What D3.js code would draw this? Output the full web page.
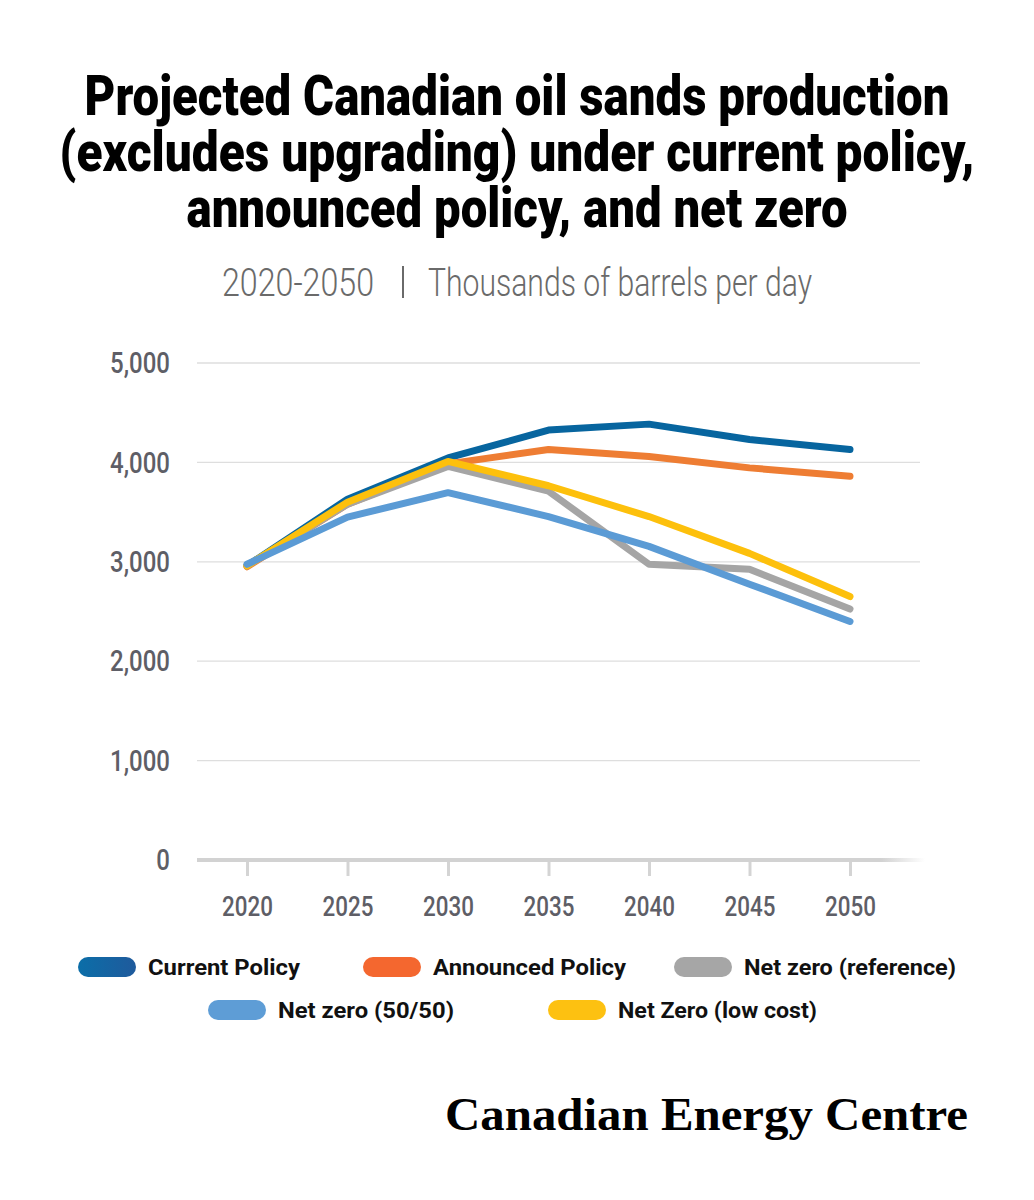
<!DOCTYPE html>
<html>
<head>
<meta charset="utf-8">
<title>Projected Canadian oil sands production</title>
<script src="https://cdn.jsdelivr.net/npm/d3@7"></script>
<style>
  body { margin: 0; background: #fff; }
  svg { display: block; }
</style>
</head>
<body>
<div id="chart"></div>
<script>
// Data (thousands of barrels per day)
const years = [2020, 2025, 2030, 2035, 2040, 2045, 2050];
const currentPolicy   = [2960, 3630, 4045, 4325, 4385, 4230, 4130];
const announcedPolicy = [2950, 3580, 3985, 4130, 4060, 3945, 3860];
const netZeroRef      = [2960, 3580, 3960, 3710, 2975, 2925, 2525];
const netZeroLowCost  = [2960, 3600, 4010, 3765, 3455, 3085, 2650];
const netZero5050     = [2975, 3450, 3695, 3455, 3155, 2775, 2400];
const yTicks = [0, 1000, 2000, 3000, 4000, 5000];

const series = [
  { name: "Current Policy",      values: currentPolicy,   color: "#07659f", sw: ["#0b6ea8", "#1f5a9c"] },
  { name: "Announced Policy",    values: announcedPolicy, color: "#ee7d33", sw: ["#f4672f", "#f4672f"] },
  { name: "Net zero (reference)",values: netZeroRef,      color: "#a5a5a5", sw: ["#a6a6a6", "#a6a6a6"] },
  { name: "Net Zero (low cost)", values: netZeroLowCost,  color: "#fdc00c", sw: ["#fdc111", "#fdc111"] },
  { name: "Net zero (50/50)",    values: netZero5050,     color: "#5b9bd5", sw: ["#5e9dd6", "#5e9dd6"] }
];

const W = 1034, H = 1200;
const svg = d3.select("#chart").append("svg")
  .attr("width", W).attr("height", H);

const defs = svg.append("defs");
series.forEach((s, i) => {
  const g = defs.append("linearGradient").attr("id", "sw" + i);
  g.append("stop").attr("offset", "0%").attr("stop-color", s.sw[0]);
  g.append("stop").attr("offset", "100%").attr("stop-color", s.sw[1]);
});
const fade = defs.append("linearGradient").attr("id", "axisFade")
  .attr("gradientUnits", "userSpaceOnUse").attr("x1", 197).attr("x2", 925);
fade.append("stop").attr("offset", "0%").attr("stop-color", "#d2d2d2");
fade.append("stop").attr("offset", "94%").attr("stop-color", "#d2d2d2");
fade.append("stop").attr("offset", "100%").attr("stop-color", "#d2d2d2").attr("stop-opacity", 0);

// Title (condensed look: squeezed with textLength, stretched vertically)
const titleLines = [
  { t: "Projected Canadian oil sands production", y: 115, len: 865 },
  { t: "(excludes upgrading) under current policy,", y: 171, len: 915 },
  { t: "announced policy, and net zero", y: 227, len: 661 }
];
svg.selectAll("text.title").data(titleLines).join("text")
  .attr("class", "title")
  .attr("transform", d => `translate(${W / 2},${d.y}) scale(1,1.33)`)
  .attr("text-anchor", "middle")
  .attr("textLength", d => d.len)
  .attr("lengthAdjust", "spacingAndGlyphs")
  .style("font-family", "Roboto, sans-serif")
  .style("font-weight", 900)
  .style("font-size", "42px")
  .attr("fill", "#000")
  .text(d => d.t);

// Subtitle
const sub = svg.append("g").style("font-family", "Roboto, sans-serif")
  .style("font-weight", 300).style("font-size", "38px").attr("fill", "#6a6a6a");
sub.append("text").attr("x", 222).attr("y", 296)
  .attr("textLength", 152).attr("lengthAdjust", "spacingAndGlyphs").text("2020-2050");
sub.append("rect").attr("x", 402).attr("y", 266).attr("width", 2).attr("height", 32).attr("fill", "#6a6a6a");
sub.append("text").attr("x", 428).attr("y", 296)
  .attr("textLength", 384).attr("lengthAdjust", "spacingAndGlyphs").text("Thousands of barrels per day");

// Scales
const x = d3.scaleLinear().domain([2020, 2050]).range([247, 850]);
const y = d3.scaleLinear().domain([0, 5000]).range([860, 363]);

// Gridlines
svg.append("g").selectAll("line").data(yTicks.filter(d => d > 0)).join("line")
  .attr("x1", 197).attr("x2", 920)
  .attr("y1", d => y(d)).attr("y2", d => y(d))
  .attr("stroke", "#dedede").attr("stroke-width", 1.3);

// Y axis labels
const yAxis = svg.append("g").attr("transform", "translate(170,0)")
  .call(d3.axisLeft(y).tickValues(yTicks).tickFormat(d3.format(",")).tickSize(0).tickPadding(0));
yAxis.select(".domain").remove();
yAxis.selectAll("text")
  .attr("transform", "scale(0.8,1)")
  .style("font-family", "Roboto, sans-serif").style("font-weight", 500)
  .style("font-size", "30px").attr("fill", "#5e5e66");

// X axis
svg.append("line").attr("x1", 197).attr("x2", 925).attr("y1", 860).attr("y2", 860)
  .attr("stroke", "url(#axisFade)").attr("stroke-width", 4);
const xAxis = svg.append("g").attr("transform", "translate(0,862)")
  .call(d3.axisBottom(x).tickValues(years).tickFormat(d3.format("d")).tickSize(14).tickPadding(20));
xAxis.select(".domain").remove();
xAxis.selectAll(".tick line").attr("stroke", "#d4d4d4").attr("stroke-width", 3);
xAxis.selectAll("text")
  .attr("transform", "scale(0.8,1)")
  .style("font-family", "Roboto, sans-serif").style("font-weight", 500)
  .style("font-size", "28px").attr("fill", "#5e5e66");

// Lines
const line = d3.line().x((d, i) => x(years[i])).y(d => y(d));
svg.append("g").selectAll("path").data(series).join("path")
  .attr("d", d => line(d.values))
  .attr("fill", "none")
  .attr("stroke", d => d.color)
  .attr("stroke-width", 7)
  .attr("stroke-linecap", "round")
  .attr("stroke-linejoin", "round");

// Legend
const legendPos = [
  { i: 0, x: 78,  y: 967,  w: 152 },
  { i: 1, x: 363, y: 967,  w: 193 },
  { i: 2, x: 674, y: 967,  w: 212 },
  { i: 4, x: 208, y: 1010, w: 176 },
  { i: 3, x: 548, y: 1010, w: 199 }
];
const lg = svg.append("g").selectAll("g").data(legendPos).join("g")
  .attr("transform", d => `translate(${d.x},${d.y})`);
lg.append("rect").attr("x", 0).attr("y", -10).attr("width", 58).attr("height", 20).attr("rx", 10)
  .attr("fill", d => `url(#sw${d.i})`);
lg.append("text").attr("x", 70).attr("y", 8)
  .attr("textLength", d => d.w).attr("lengthAdjust", "spacingAndGlyphs")
  .style("font-family", "Roboto, sans-serif").style("font-weight", 700)
  .style("font-size", "22px").attr("fill", "#111")
  .text(d => series[d.i].name);

// Footer
svg.append("text").attr("x", 445).attr("y", 1130)
  .attr("textLength", 523).attr("lengthAdjust", "spacingAndGlyphs")
  .style("font-family", "'Liberation Serif', 'DejaVu Serif', serif")
  .style("font-weight", 700).style("font-size", "46px")
  .attr("fill", "#000")
  .text("Canadian Energy Centre");
</script>
</body>
</html>
